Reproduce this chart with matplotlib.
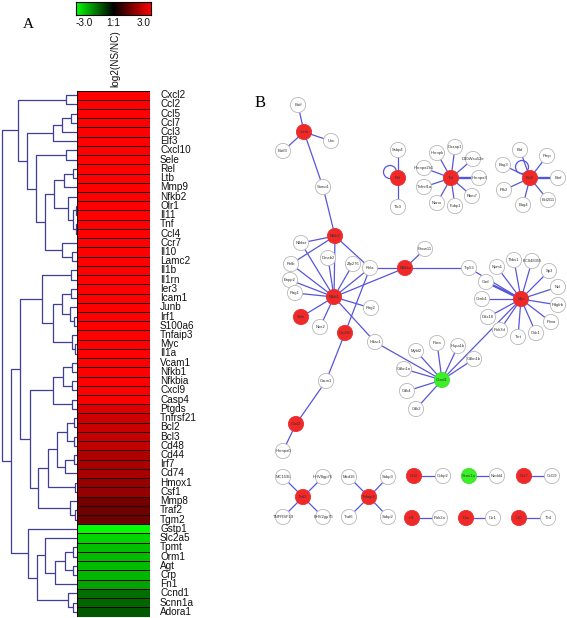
import matplotlib
matplotlib.use('Agg')
import matplotlib.pyplot as plt
import numpy as np
from matplotlib.colors import LinearSegmentedColormap
from matplotlib.patches import Circle

# ---------------- Panel A data ----------------
genes = ["Cxcl2", "Ccl2", "Ccl5", "Ccl7", "Ccl3", "Elf3", "Cxcl10", "Sele", "Rel", "Ltb",
         "Mmp9", "Nfkb2", "Olr1", "Il11", "Tnf", "Ccl4", "Ccr7", "Il10", "Lamc2", "Il1b",
         "Il1rn", "Ier3", "Icam1", "Junb", "Irf1", "S100a6", "Tnfaip3", "Myc", "Il1a", "Vcam1",
         "Nfkb1", "Nfkbia", "Cxcl9", "Casp4", "Ptgds", "Tnfrsf21", "Bcl2", "Bcl3", "Cd48", "Cd44",
         "Irf7", "Cd74", "Hmox1", "Csf1", "Mmp8", "Traf2", "Tgm2", "Gstp1", "Slc2a5", "Tpmt",
         "Orm1", "Agt", "Crp", "Fn1", "Ccnd1", "Scnn1a", "Adora1"]
log2_ratio = [3.0, 3.0, 3.0, 3.0, 3.0, 3.0, 3.0, 3.0, 3.0, 3.0,
              3.0, 3.0, 3.0, 3.0, 3.0, 3.0, 3.0, 3.0, 3.0, 3.0,
              3.0, 3.0, 3.0, 3.0, 3.0, 3.0, 3.0, 3.0, 3.0, 3.0,
              3.0, 3.0, 3.0, 2.95, 2.6, 2.4, 2.35, 2.3, 2.25, 2.05,
              2.0, 1.95, 1.75, 1.75, 1.35, 1.3, 1.25, -3.0, -2.5, -2.25,
              -2.2, -2.2, -2.15, -1.9, -1.3, -1.2, -1.05]
column_label = "log2(NS/NC)"
cbar_labels = ["-3.0", "1:1", "3.0"]
cbar_values = [-3.0, 0.0, 3.0]

# dendrogram: (height, left, right); leaves are gene names
dendro_tree = (75.3,
    (59.3,
        (11, "Cxcl2", "Ccl2"),
        (50,
            (24, (15, (6, "Ccl5", "Ccl7"), "Ccl3"), "Elf3"),
            (41,
                (11, "Cxcl10", "Sele"),
                (32,
                    (23,
                        (13, (4, "Rel", "Ltb"), "Mmp9"),
                        (9, "Nfkb2", (4, (1, "Olr1", "Il11"), (1.5, "Tnf", "Ccl4")))),
                    (15, "Ccr7", (5, "Il10", "Lamc2")))))),
    (66,
        (57,
            (35,
                (6, "Il1b", "Il1rn"),
                (24,
                    (15, (6, "Ier3", "Icam1"), (7, "Junb", (3, "Irf1", "S100a6"))),
                    (5, "Tnfaip3", (2, "Myc", "Il1a")))),
            (47,
                (24,
                    (14, (5, "Vcam1", "Nfkb1"), (5, "Nfkbia", "Cxcl9")),
                    (5, "Casp4", "Ptgds")),
                (39,
                    (29,
                        (20,
                            (10, (3, "Tnfrsf21", "Bcl2"), (3, "Bcl3", "Cd48")),
                            (12, (3, "Cd44", "Irf7"), "Cd74")),
                        (2, "Hmox1", "Csf1")),
                    (7, "Mmp8", (2, "Traf2", "Tgm2"))))),
        (49,
            "Gstp1",
            (40,
                (32, "Slc2a5", (22, (12, (4, "Tpmt", "Orm1"), (4, "Agt", "Crp")), "Fn1")),
                (9, "Ccnd1", (4, "Scnn1a", "Adora1"))))))

# ---------------- Panel B data ----------------
net_names = ["Batf", "Junb", "Ubc", "Batf3", "Sumo1", "Nfkb2", "Nfkbiz", "Relb", "Dmeb2", "Zfp276",
             "Rela", "Enpp2", "Rag1", "Nfkb1", "Rag2", "Sele", "Nos2", "Cxcl10", "Hdac1", "Carm1",
             "Cxcl2", "Hnrnpa0", "Nfkbia", "Fbxw11", "Trp53", "Cad", "Npm1", "Thbs1", "BC048355", "Sp3",
             "Ncl", "Pdgfrb", "Myc", "Ccnb1", "Ddx18", "Polr3d", "Tert", "Odc1", "Pima", "Ccnd1",
             "Pura", "Hspa1b", "Mybl2", "Cdkn1b", "Cdkn1a", "Cdk4", "Cdk2", "Ssbp4", "Rel", "Tlx3",
             "Tnf", "Hnrnpk", "Dazap1", "D10Wsu52e", "Hnrnpa3", "Rbm7", "Fubp1", "Nono", "Tnfrsf1a", "Hnrnpa2b1",
             "Bcl2", "Bid", "Prnp", "Bag3", "Bmf", "Ptk2", "Bag4", "Bcl2l11", "MC159L", "HHV8gp76",
             "Traf2", "TNFRSF19", "EHV2gp75", "Med16", "Sabp3", "Tnfaip3", "Traf6", "Sabp2", "Ccl2", "Ccbp2",
             "Scnn1a", "Nedd4", "Ccr7", "Ccl19", "Irf1", "Polr2a", "Il1a", "Il1r1", "Il10", "Tlr4"]
net_x = [298, 304, 331, 283, 323, 335, 301, 291, 328, 353,
         370, 290, 295, 334, 371, 301, 320, 345, 375, 326,
         296, 283, 405, 425, 469, 486, 497, 514, 532, 549,
         558, 558, 521, 482, 488, 500, 518, 536, 551, 442,
         437, 458, 416, 474, 404, 407, 416, 398, 398, 398,
         451, 437, 455, 473, 479, 472, 455, 437, 424, 424,
         530, 520, 547, 503, 558, 504, 523, 548, 283, 323,
         303, 283, 323, 349, 388, 369, 349, 388, 414, 443,
         469, 497, 524, 552, 412, 440, 466, 493, 519, 548]
net_y = [105, 132, 141, 151, 187, 236, 243, 264, 258, 264,
         268, 280, 293, 297, 308, 317, 327, 333, 342, 381,
         424, 451, 268, 249, 268, 282, 267, 260, 261, 271,
         287, 305, 299, 299, 317, 330, 337, 333, 322, 380,
         343, 346, 351, 359, 369, 391, 409, 150, 178, 207,
         178, 153, 147, 159, 178, 196, 206, 203, 187, 168,
         178, 150, 156, 165, 178, 190, 205, 200, 477, 477,
         497, 517, 517, 477, 477, 497, 517, 517, 476, 476,
         476, 476, 476, 476, 518, 518, 518, 518, 518, 518]
net_kind = ["w", "r", "w", "w", "w", "r", "w", "w", "w", "w",
            "w", "w", "w", "r", "w", "r", "w", "r", "w", "w",
            "r", "w", "r", "w", "w", "w", "w", "w", "w", "w",
            "w", "w", "r", "w", "w", "w", "w", "w", "w", "g",
            "w", "w", "w", "w", "w", "w", "w", "w", "r", "w",
            "r", "w", "w", "w", "w", "w", "w", "w", "w", "w",
            "r", "w", "w", "w", "w", "w", "w", "w", "w", "w",
            "r", "w", "w", "w", "w", "r", "w", "w", "r", "w",
            "g", "w", "r", "w", "r", "w", "r", "w", "r", "w"]
net_edges = [("Batf", "Junb"), ("Junb", "Ubc"), ("Junb", "Batf3"), ("Junb", "Sumo1"), ("Sumo1", "Nfkb2"),
             ("Nfkb2", "Nfkbiz"), ("Nfkb2", "Relb"), ("Nfkb2", "Nfkb1"), ("Nfkb2", "Rela"),
             ("Nfkbiz", "Nfkb1"), ("Relb", "Nfkb1"), ("Enpp2", "Nfkb1"), ("Rag1", "Nfkb1"),
             ("Dmeb2", "Nfkb1"), ("Zfp276", "Nfkb1"), ("Rela", "Nfkb1"), ("Nfkbia", "Nfkb1"),
             ("Rag2", "Nfkb1"), ("Sele", "Nfkb1"), ("Nos2", "Nfkb1"), ("Hdac1", "Nfkb1"),
             ("Rela", "Nfkbia"), ("Rela", "Cxcl10"), ("Nfkbia", "Fbxw11"), ("Nfkbia", "Trp53"),
             ("Trp53", "Myc"), ("Cxcl10", "Carm1"), ("Carm1", "Cxcl2"), ("Cxcl2", "Hnrnpa0"),
             ("Hdac1", "Ccnd1"), ("Ccnd1", "Mybl2"), ("Ccnd1", "Pura"), ("Ccnd1", "Hspa1b"),
             ("Ccnd1", "Cdkn1b"), ("Ccnd1", "Cdkn1a"), ("Ccnd1", "Cdk4"), ("Ccnd1", "Cdk2"),
             ("Ccnd1", "Myc"), ("Myc", "Cad"), ("Myc", "Npm1"), ("Myc", "Thbs1"), ("Myc", "BC048355"),
             ("Myc", "Sp3"), ("Myc", "Ncl"), ("Myc", "Pdgfrb"), ("Myc", "Pima"), ("Myc", "Odc1"),
             ("Myc", "Tert"), ("Myc", "Polr3d"), ("Myc", "Ddx18"), ("Myc", "Ccnb1"),
             ("Rel", "Ssbp4"), ("Rel", "Tlx3"),
             ("Tnf", "Hnrnpk"), ("Tnf", "Dazap1"), ("Tnf", "D10Wsu52e"), ("Tnf", "Hnrnpa3"),
             ("Tnf", "Rbm7"), ("Tnf", "Fubp1"), ("Tnf", "Nono"), ("Tnf", "Tnfrsf1a"), ("Tnf", "Hnrnpa2b1"),
             ("Bcl2", "Bid"), ("Bcl2", "Prnp"), ("Bcl2", "Bag3"), ("Bcl2", "Bmf"), ("Bcl2", "Ptk2"),
             ("Bcl2", "Bag4"), ("Bcl2", "Bcl2l11"),
             ("Traf2", "MC159L"), ("Traf2", "HHV8gp76"), ("Traf2", "TNFRSF19"), ("Traf2", "EHV2gp75"),
             ("Tnfaip3", "Med16"), ("Tnfaip3", "Sabp3"), ("Tnfaip3", "Traf6"), ("Tnfaip3", "Sabp2"),
             ("Ccl2", "Ccbp2"), ("Scnn1a", "Nedd4"), ("Ccr7", "Ccl19"), ("Irf1", "Polr2a"),
             ("Il1a", "Il1r1"), ("Il10", "Tlr4")]
multi_edges = [("Tnf", "Hnrnpa3"), ("Bcl2", "Bmf"), ("Myc", "Cad")]
self_loops = ["Rel", "Bcl2"]

# ---------------- styling ----------------
W, H = 567, 618
SANS = ["Liberation Sans", "DejaVu Sans"]
SERIF = ["Liberation Serif", "DejaVu Serif"]
plt.rcParams['font.family'] = SANS

fig = plt.figure(figsize=(W / 100, H / 100), dpi=100)
fig.patch.set_facecolor('white')

def fax(l, t, r, b):
    return fig.add_axes([l / W, 1 - b / H, (r - l) / W, (b - t) / H])

cmap = LinearSegmentedColormap.from_list("gbr", ["#00ff00", "#000000", "#ff0000"])
n = len(genes)

# heatmap
ax_hm = fax(77, 90.5, 150.5, 616.5)
vals = np.array(log2_ratio).reshape(-1, 1)
ax_hm.pcolormesh(np.arange(2), np.arange(n + 1), vals, cmap=cmap, vmin=-3, vmax=3,
                 edgecolors='#200000', linewidth=0.6)
ax_hm.set_xlim(0, 1)
ax_hm.set_ylim(n, 0)
ax_hm.axis('off')
for i, g in enumerate(genes):
    ax_hm.text(1.13, i + 0.5, g, ha='left', va='center', fontsize=7.2, color='#111111')
ax_hm.text(0.52, -0.35, column_label, rotation=90, ha='center', va='bottom', fontsize=7.2, color='#111111')

# dendrogram
ax_d = fax(0, 90.5, 77, 616.5)
ax_d.set_xlim(77, 0)
ax_d.set_ylim(n, 0)
ax_d.axis('off')
pos_of = {g: i + 0.5 for i, g in enumerate(genes)}
dcol = '#3f3f98'

def draw(node):
    if isinstance(node, str):
        return pos_of[node], 0.0
    h, a, b = node
    ya, ha_ = draw(a)
    yb, hb = draw(b)
    ax_d.plot([ha_, h, h, hb], [ya, ya, yb, yb], color=dcol, lw=0.9, solid_capstyle='butt')
    return (ya + yb) / 2, h

draw(dendro_tree)

# colorbar
ax_cb = fax(76, 1.7, 150.7, 15)
grad = np.linspace(-3, 3, 256).reshape(1, -1)
ax_cb.imshow(grad, cmap=cmap, vmin=-3, vmax=3, aspect='auto', extent=[-3, 3, 0, 1])
ax_cb.set_xticks([]); ax_cb.set_yticks([])
for s in ax_cb.spines.values():
    s.set_linewidth(0.8); s.set_color('black')
aligns = ['left', 'center', 'right']
for v, lab, al in zip(cbar_values, cbar_labels, aligns):
    ax_cb.text(v, -0.25, lab, ha=al, va='top', fontsize=7.2, color='#111111')

fig.text(28 / W, 1 - 25 / H, "A", fontsize=11, family=SERIF, ha='center', va='center')
fig.text(260 / W, 1 - 103 / H, "B", fontsize=12, family=SERIF, ha='center', va='center')

# network
ax_n = fax(240, 60, 567, 618)
ax_n.set_xlim(240, 567)
ax_n.set_ylim(618, 60)
ax_n.axis('off')
idx = {nm: i for i, nm in enumerate(net_names)}
ecol = '#5656dc'
thick = set(multi_edges)
for a, b in net_edges:
    ia, ib = idx[a], idx[b]
    lw = 1.7 if (a, b) in thick else 0.9
    ax_n.plot([net_x[ia], net_x[ib]], [net_y[ia], net_y[ib]], color=ecol, lw=lw, zorder=1)
loop_offset = {"Rel": (-8, -6), "Bcl2": (-8, -11)}
for nm in self_loops:
    i = idx[nm]
    dx, dy = loop_offset[nm]
    ax_n.add_patch(Circle((net_x[i] + dx, net_y[i] + dy), 6.5, fill=False, ec=ecol, lw=0.9, zorder=1))

face = {"w": "white", "r": "#f02828", "g": "#3cf028"}
edge = {"w": "#b8b8b8", "r": "#e83030", "g": "#44dd33"}
ax_n.scatter(net_x, net_y, s=120, c=[face[k] for k in net_kind],
             edgecolors=[edge[k] for k in net_kind], linewidths=0.6, zorder=3)
for nm, x, y in zip(net_names, net_x, net_y):
    ax_n.text(x, y, nm, ha='center', va='center', fontsize=3.0, color='#333333', zorder=4)

fig.savefig("out.png", dpi=100, facecolor='white')
